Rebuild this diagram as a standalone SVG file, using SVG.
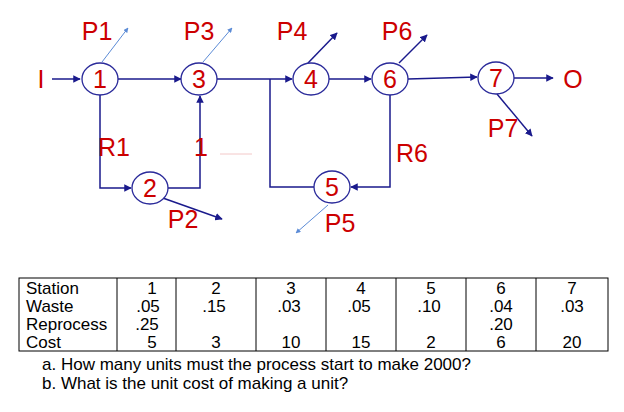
<svg xmlns="http://www.w3.org/2000/svg" width="624" height="412" viewBox="0 0 624 412">
<defs>
<marker id="a" viewBox="0 0 10 10" refX="9" refY="5" markerWidth="5" markerHeight="5" orient="auto"><path d="M0,0L10,5L0,10z" fill="#1a1a8c"/></marker>
<marker id="b" viewBox="0 0 10 10" refX="9" refY="5" markerWidth="5" markerHeight="5" orient="auto"><path d="M0,0L10,5L0,10z" fill="#5b8bd6"/></marker>
</defs>
<style>
.n{fill:#fff;stroke:#2a2a9a;stroke-width:1.3}
.l{fill:#cc0000;font-family:"Liberation Sans",Arial,sans-serif;font-size:25px;text-anchor:middle}
.c{fill:none;stroke:#1a1a8c;stroke-width:1.5}
.lb{fill:none;stroke:#5b8bd6;stroke-width:1}
.t{font-family:"Liberation Sans",Arial,sans-serif;font-size:17px;fill:#000}
.tc{text-anchor:middle}
</style>
<rect width="624" height="412" fill="#fff"/>
<g id="connectors">
<line class="c" x1="52" y1="79" x2="80" y2="79" marker-end="url(#a)"/>
<line class="c" x1="118" y1="79" x2="181" y2="79" marker-end="url(#a)"/>
<polyline class="c" points="100,95 100,188 131,188" marker-end="url(#a)"/>
<polyline class="c" points="168,188 200,188 200,96" marker-end="url(#a)"/>
<line class="c" x1="217" y1="79" x2="292" y2="79" marker-end="url(#a)"/>
<polyline class="c" points="270,79 270,187 314,187"/>
<line class="c" x1="329" y1="79" x2="371" y2="79" marker-end="url(#a)"/>
<polyline class="c" points="390,95 390,187 351,187" marker-end="url(#a)"/>
<line class="c" x1="408" y1="79" x2="477" y2="77" marker-end="url(#a)"/>
<line class="c" x1="514" y1="78" x2="553" y2="78" marker-end="url(#a)"/>
<line class="lb" x1="102" y1="62" x2="128" y2="28" marker-end="url(#b)"/>
<line class="lb" x1="203" y1="62" x2="232" y2="28" marker-end="url(#b)"/>
<line class="c" x1="308" y1="63" x2="337" y2="33" marker-end="url(#a)"/>
<line class="c" x1="399" y1="63" x2="427" y2="35" marker-end="url(#a)"/>
<line class="c" x1="497" y1="94" x2="532" y2="136" marker-end="url(#a)"/>
<line class="c" x1="160" y1="197" x2="222" y2="219" marker-end="url(#a)"/>
<line class="lb" x1="328" y1="205" x2="296" y2="233" marker-end="url(#b)"/>
<line x1="220" y1="154" x2="252" y2="154" stroke="#f3c8c8" stroke-width="1"/>
</g>
<g id="n1"><ellipse class="n" cx="100" cy="79" rx="18" ry="16"/><text class="l" x="100" y="88">1</text></g>
<g id="n2"><ellipse class="n" cx="150" cy="188" rx="18" ry="16"/><text class="l" x="150" y="197">2</text></g>
<g id="n3"><ellipse class="n" cx="199" cy="79" rx="18" ry="16"/><text class="l" x="199" y="88">3</text></g>
<g id="n4"><ellipse class="n" cx="311" cy="79" rx="18" ry="16"/><text class="l" x="311" y="88">4</text></g>
<g id="n5"><ellipse class="n" cx="332" cy="187" rx="18" ry="16"/><text class="l" x="332" y="196">5</text></g>
<g id="n6"><ellipse class="n" cx="390" cy="79" rx="18" ry="16"/><text class="l" x="390" y="88">6</text></g>
<g id="n7"><ellipse class="n" cx="496" cy="78" rx="18" ry="16"/><text class="l" x="496" y="87">7</text></g>
<g id="labels">
<text class="l" x="41" y="88">I</text>
<text class="l" x="573" y="88">O</text>
<text class="l" x="97" y="40">P1</text>
<text class="l" x="199" y="40">P3</text>
<text class="l" x="292" y="40">P4</text>
<text class="l" x="397" y="40">P6</text>
<text class="l" x="503" y="137">P7</text>
<text class="l" x="183" y="228">P2</text>
<text class="l" x="340" y="232">P5</text>
<text class="l" x="114" y="156">R1</text>
<text class="l" x="201" y="156">1</text>
<text class="l" x="412" y="162">R6</text>
</g>
<g id="table">
<rect x="19" y="278" width="589" height="73" fill="none" stroke="#000" stroke-width="1"/>
<g stroke="#000" stroke-width="1">
<line x1="117" y1="278" x2="117" y2="351"/><line x1="176" y1="278" x2="176" y2="351"/>
<line x1="256" y1="278" x2="256" y2="351"/><line x1="326" y1="278" x2="326" y2="351"/>
<line x1="396" y1="278" x2="396" y2="351"/><line x1="466" y1="278" x2="466" y2="351"/>
<line x1="536" y1="278" x2="536" y2="351"/>
</g>
<text class="t" x="26" y="294">Station</text>
<text class="t" x="26" y="312">Waste</text>
<text class="t" x="26" y="330">Reprocess</text>
<text class="t" x="26" y="348">Cost</text>
<g class="t tc">
<text x="152" y="294">1</text><text x="216" y="294">2</text><text x="291" y="294">3</text><text x="361" y="294">4</text><text x="431" y="294">5</text><text x="501" y="294">6</text><text x="572" y="294">7</text>
<text x="148" y="312">.05</text><text x="214" y="312">.15</text><text x="289" y="312">.03</text><text x="359" y="312">.05</text><text x="429" y="312">.10</text><text x="501" y="312">.04</text><text x="572" y="312">.03</text>
<text x="147" y="330">.25</text><text x="501" y="330">.20</text>
<text x="152" y="348">5</text><text x="216" y="348">3</text><text x="291" y="348">10</text><text x="361" y="348">15</text><text x="431" y="348">2</text><text x="501" y="348">6</text><text x="572" y="348">20</text>
</g>
<text class="t" x="42" y="370">a.  How many units must the process start to make 2000?</text>
<text class="t" x="42" y="389">b.  What is the unit cost of making a unit?</text>
</g>
</svg>
